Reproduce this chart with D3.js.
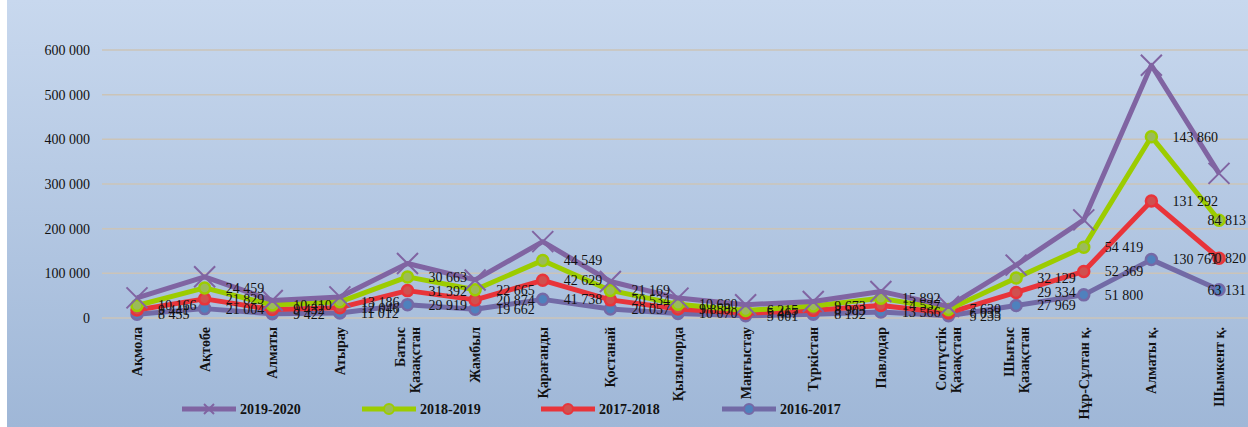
<!DOCTYPE html>
<html>
<head>
<meta charset="utf-8">
<script src="https://cdn.jsdelivr.net/npm/d3@7"></script>
<style>
  html, body { margin: 0; padding: 0; background: #ffffff; }
  svg { display: block; }
</style>
</head>
<body>
<script>
// regions (categories)
const categories = ["Ақмола", "Ақтөбе", "Алматы", "Атырау", "Батыс Қазақстан", "Жамбыл",
  "Қарағанды", "Қостанай", "Қызылорда", "Маңғыстау", "Түркістан", "Павлодар",
  "Солтүстік Қазақстан", "Шығыс Қазақстан", "Нұр-Сұлтан қ.", "Алматы қ.", "Шымкент қ."];

// series values, stacked bottom to top
const v2016 = [8455, 21004, 9422, 11012, 29919, 19662, 41738, 20057, 10070, 5001, 8192, 13566, 5235, 27969, 51800, 130761, 63131];
const v2017 = [9441, 21829, 9432, 12046, 31392, 20874, 42629, 20534, 9858, 5467, 8903, 14537, 6033, 29334, 52369, 131292, 70820];
const v2018 = [10166, 24459, 10410, 13186, 30663, 22665, 44549, 21169, 10660, 6215, 9673, 15892, 7630, 32129, 54419, 143860, 84813];
const v2019 = [17000, 25000, 10000, 11000, 30000, 22000, 42000, 20000, 14000, 13000, 10300, 15500, 7000, 29000, 61000, 160000, 105000];

const seriesNames = ["2016-2017", "2017-2018", "2018-2019", "2019-2020"];
const yTicks = [0, 100000, 200000, 300000, 400000, 500000, 600000];

const W = 1248, H = 427;

const svg = d3.select("body").append("svg")
  .attr("width", W)
  .attr("height", H);

const defs = svg.append("defs");
const grad = defs.append("linearGradient")
  .attr("id", "bg").attr("x1", 0).attr("y1", 0).attr("x2", 0).attr("y2", 1);
grad.append("stop").attr("offset", "0%").attr("stop-color", "#c8d8ee");
grad.append("stop").attr("offset", "100%").attr("stop-color", "#9fb7d7");

svg.append("rect")
  .attr("x", 7).attr("y", 0)
  .attr("width", W - 7).attr("height", H)
  .attr("fill", "url(#bg)");

const x = d3.scalePoint()
  .domain(categories)
  .range([137, 1219]);

const y = d3.scaleLinear()
  .domain([0, 600000])
  .range([318, 50]);

const fmt = v => d3.format(",")(v).replace(/,/g, " ");

// gridlines + y labels
svg.append("g").selectAll("line")
  .data(yTicks)
  .join("line")
  .attr("x1", 102).attr("x2", W)
  .attr("y1", d => y(d)).attr("y2", d => y(d))
  .attr("stroke", "#cbc4b8")
  .attr("stroke-width", 1.5);

svg.append("g").selectAll("text")
  .data(yTicks)
  .join("text")
  .attr("x", 90)
  .attr("y", d => y(d))
  .attr("dy", "0.35em")
  .attr("text-anchor", "end")
  .attr("font-family", "Liberation Serif, serif")
  .attr("font-size", 14)
  .attr("fill", "#111")
  .text(d => d === 0 ? "0" : fmt(d));

// category labels, rotated
const catG = svg.append("g");
categories.forEach(c => {
  const words = c.split(" ");
  let lines = [c];
  if (words.length === 2 && words[1] === "Қазақстан") lines = words;
  const cx = x(c);
  lines.forEach((ln, i) => {
    const off = (i - (lines.length - 1) / 2) * 15;
    catG.append("text")
      .attr("transform", `translate(${cx + off + 5},327) rotate(-90)`)
      .attr("text-anchor", "end")
      .attr("font-family", "Liberation Serif, serif")
      .attr("font-weight", "bold")
      .attr("font-size", 14)
      .attr("fill", "#111")
      .text(ln);
  });
});

// stacked values
const raw = [v2016, v2017, v2018, v2019];
const rows = categories.map((c, i) => {
  const r = {cat: c};
  seriesNames.forEach((s, k) => r[s] = raw[k][i]);
  return r;
});
const stacked = d3.stack().keys(seriesNames)(rows);

const styles = {
  "2016-2017": {line: "#726aa6", fill: "#4f81bd", stroke: "#7569a6", marker: "circle"},
  "2017-2018": {line: "#e8343a", fill: "#d0504f", stroke: "#e8343a", marker: "circle"},
  "2018-2019": {line: "#9ccc00", fill: "#9bbb59", stroke: "#9ccc00", marker: "circle"},
  "2019-2020": {line: "#8064a2", fill: "none", stroke: "#8064a2", marker: "x"}
};

const lineGen = d3.line()
  .x(d => x(d.data.cat))
  .y(d => y(d[1]));

const plot = svg.append("g");

function drawX(g, cx, cy, r, color) {
  g.append("path")
    .attr("d", `M${cx - r},${cy - r}L${cx + r},${cy + r}M${cx - r},${cy + r}L${cx + r},${cy - r}`)
    .attr("stroke", color)
    .attr("stroke-width", 2)
    .attr("fill", "none");
}

stacked.forEach(layer => {
  const st = styles[layer.key];
  plot.append("path")
    .datum(layer)
    .attr("d", lineGen)
    .attr("fill", "none")
    .attr("stroke", st.line)
    .attr("stroke-width", 5)
    .attr("stroke-linejoin", "round");
  layer.forEach(d => {
    const cx = x(d.data.cat), cy = y(d[1]);
    if (st.marker === "circle") {
      plot.append("circle")
        .attr("cx", cx).attr("cy", cy).attr("r", 5.5)
        .attr("fill", st.fill)
        .attr("stroke", st.stroke)
        .attr("stroke-width", 2.5);
    } else {
      drawX(plot, cx, cy, 10.5, st.line);
    }
  });
});

// data labels for first three series (pulled back inside at the right edge)
const labG = svg.append("g");
stacked.slice(0, 3).forEach(layer => {
  layer.forEach(d => {
    const t = labG.append("text")
      .attr("x", x(d.data.cat) + 21)
      .attr("y", y(d[1]))
      .attr("dy", "0.35em")
      .attr("font-family", "Liberation Serif, serif")
      .attr("font-size", 14)
      .attr("fill", "#111")
      .text(fmt(d.data[layer.key]));
    const w = t.node().getComputedTextLength();
    if (x(d.data.cat) + 21 + w > W - 2) t.attr("x", W - 2 - w);
  });
});

// legend
const legendItems = [
  {name: "2019-2020", x: 182},
  {name: "2018-2019", x: 362},
  {name: "2017-2018", x: 541},
  {name: "2016-2017", x: 722}
];
const leg = svg.append("g");
legendItems.forEach(it => {
  const st = styles[it.name];
  const ly = 409;
  leg.append("line")
    .attr("x1", it.x).attr("x2", it.x + 54)
    .attr("y1", ly).attr("y2", ly)
    .attr("stroke", st.line)
    .attr("stroke-width", 5);
  if (st.marker === "circle") {
    leg.append("circle")
      .attr("cx", it.x + 27).attr("cy", ly).attr("r", 5)
      .attr("fill", st.fill).attr("stroke", st.stroke).attr("stroke-width", 2);
  } else {
    drawX(leg, it.x + 27, ly, 5, st.line);
  }
  leg.append("text")
    .attr("x", it.x + 58)
    .attr("y", ly)
    .attr("dy", "0.35em")
    .attr("font-family", "Liberation Serif, serif")
    .attr("font-weight", "bold")
    .attr("font-size", 14)
    .attr("fill", "#111")
    .text(it.name);
});
</script>
</body>
</html>
